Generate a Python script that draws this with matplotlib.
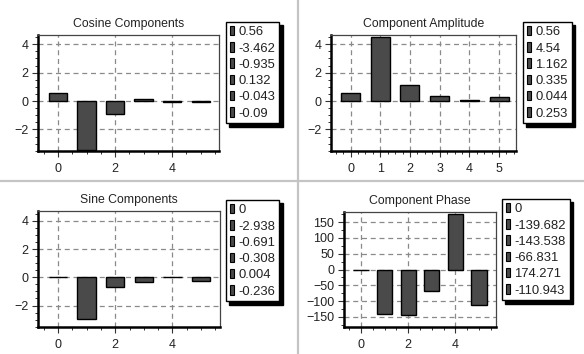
import matplotlib
matplotlib.use("Agg")
import matplotlib.pyplot as plt
from matplotlib.patches import Rectangle
from matplotlib.lines import Line2D
from matplotlib.ticker import MultipleLocator

plt.rcParams['font.family'] = ['Liberation Sans', 'DejaVu Sans']

# Harmonic index for each component
harmonics = [0, 1, 2, 3, 4, 5]

cosine_vals = [0.56, -3.462, -0.935, 0.132, -0.043, -0.09]
amplitude_vals = [0.56, 4.54, 1.162, 0.335, 0.044, 0.253]
sine_vals = [0, -2.938, -0.691, -0.308, 0.004, -0.236]
phase_vals = [0, -139.682, -143.538, -66.831, 174.271, -110.943]

titles = ["Cosine Components", "Component Amplitude",
          "Sine Components", "Component Phase"]

W, H = 584, 354
fig = plt.figure(figsize=(W / 100, H / 100), dpi=100)
fig.patch.set_facecolor('white')

BAR = '#4a4a4a'
TXT = '#222222'


def px_axes(x0, y0, x1, y1):
    return fig.add_axes([x0 / W, 1 - y1 / H, (x1 - x0) / W, (y1 - y0) / H])


def panel(box, values, title, xlim, ylim, xmaj, xmin, ymaj, ymin, legend_xy):
    ax = px_axes(*box)
    ax.bar(harmonics, values, width=0.64, color=BAR, edgecolor='black',
           linewidth=1.0, zorder=3)
    ax.set_xlim(*xlim)
    ax.set_ylim(*ylim)
    ax.xaxis.set_major_locator(MultipleLocator(xmaj))
    ax.xaxis.set_minor_locator(MultipleLocator(xmin))
    ax.yaxis.set_major_locator(MultipleLocator(ymaj))
    ax.yaxis.set_minor_locator(MultipleLocator(ymin))
    ax.set_axisbelow(True)
    ax.grid(True, which='major', color='#8a8a8a', linestyle=(0, (4, 3)),
            linewidth=0.9)
    for side in ('left', 'bottom'):
        ax.spines[side].set_linewidth(1.8)
        ax.spines[side].set_color('black')
    for side in ('top', 'right'):
        ax.spines[side].set_linewidth(0.9)
        ax.spines[side].set_color('#444444')
    ax.tick_params(which='major', length=4, width=0.8, color='#333333',
                   labelsize=9, labelcolor=TXT, pad=3)
    ax.tick_params(which='minor', length=2, width=0.7, color='#333333')
    ax.tick_params(axis='x', pad=5)
    ax.set_title(title, fontsize=8.8, color=TXT, pad=6)

    handles = [Rectangle((0, 0), 1, 1, facecolor=BAR, edgecolor='black',
                         linewidth=0.8) for _ in values]
    labels = [f"{v:g}" for v in values]
    leg = fig.legend(handles, labels, loc='upper left',
                     bbox_to_anchor=(legend_xy[0] / W, 1 - legend_xy[1] / H),
                     bbox_transform=fig.transFigure,
                     fontsize=9.4, frameon=True, fancybox=False,
                     shadow={'ox': 2.4, 'oy': -2.4, 'color': 'black', 'alpha': 1},
                     borderpad=0.3, handlelength=0.35, handleheight=0.75,
                     handletextpad=0.3, labelspacing=0.3, borderaxespad=0)
    leg.get_frame().set_edgecolor('black')
    leg.get_frame().set_linewidth(1.0)
    for t in leg.get_texts():
        t.set_color(TXT)
    return ax


panel((38, 35, 219, 151), cosine_vals, titles[0], (-0.7, 5.64), (-3.52, 4.65),
      2, 0.5, 2, 0.5, (226, 22))
panel((331, 35, 516, 151), amplitude_vals, titles[1], (-0.66, 5.57), (-3.52, 4.65),
      1, 0.25, 2, 0.5, (523, 22))
panel((38, 211, 220, 327), sine_vals, titles[2], (-0.7, 5.66), (-3.52, 4.7),
      2, 0.5, 2, 0.5, (226, 200))
panel((344, 212, 496, 327), phase_vals, titles[3], (-0.72, 5.72), (-182, 182),
      2, 0.5, 50, 25, (502, 199))

# Pane dividers
fig.add_artist(Line2D([298 / W, 298 / W], [0, 1], color='#c4c4c4',
                      linewidth=1.6, transform=fig.transFigure))
fig.add_artist(Line2D([0, 1], [1 - 181 / H, 1 - 181 / H], color='#c4c4c4',
                      linewidth=1.6, transform=fig.transFigure))

fig.savefig("out.png", dpi=100, facecolor='white')
